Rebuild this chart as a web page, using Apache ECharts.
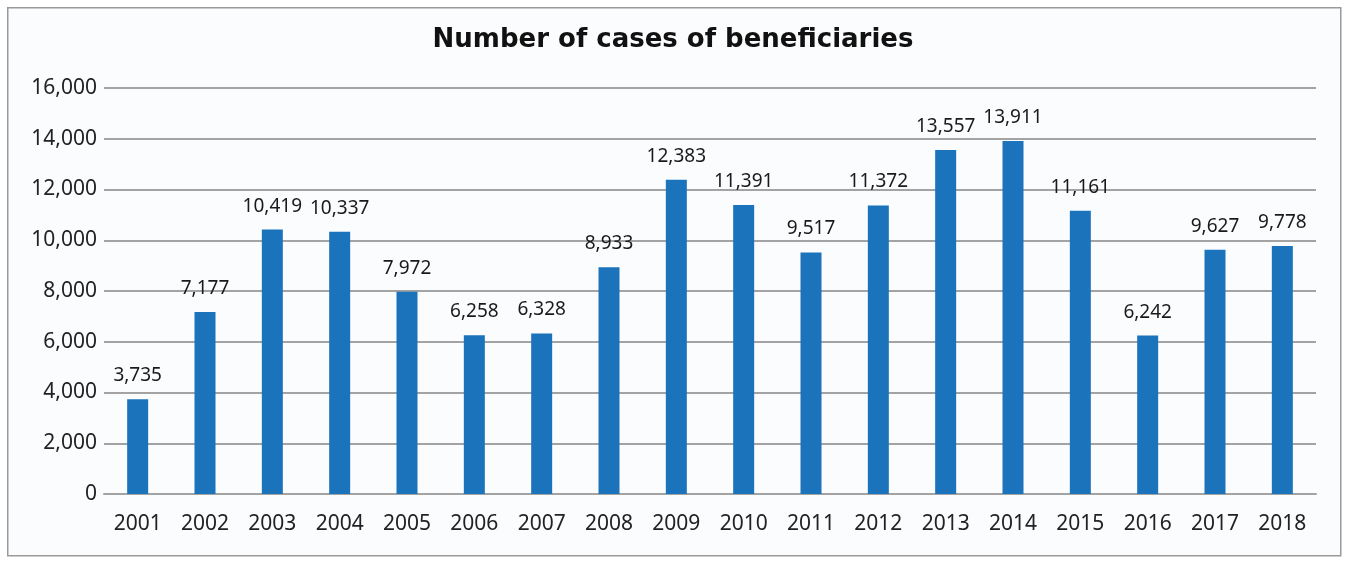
<!DOCTYPE html>
<html>
<head>
<meta charset="utf-8">
<script src="https://cdn.jsdelivr.net/npm/echarts@6/dist/echarts.min.js"></script>
<style>
	html, body { margin: 0; padding: 0; background: #fff; }
	#chart { width: 1346px; height: 562px; }
</style>
</head>
<body>
<div id="chart"></div>
<script>
const years = [ '2001', '2002', '2003', '2004', '2005', '2006', '2007', '2008', '2009',
	'2010', '2011', '2012', '2013', '2014', '2015', '2016', '2017', '2018' ];
const cases = [ 3735, 7177, 10419, 10337, 7972, 6258, 6328, 8933, 12383,
	11391, 9517, 11372, 13557, 13911, 11161, 6242, 9627, 9778 ];
const yTicks = { min: 0, max: 16000, interval: 2000 };

const chart = echarts.init( document.getElementById( 'chart' ) );

chart.setOption( {
	animation: false,
	textStyle: { fontFamily: '"Noto Sans", sans-serif' },
	// frame round the chart
	graphic: [ {
		type: 'rect',
		left: 7,
		top: 7,
		shape: { width: 1333, height: 548 },
		style: { fill: '#fbfcfe', stroke: '#9a9a9a', lineWidth: 1.5 },
		z: -10
	} ],
	title: {
		text: 'Number of cases of beneficiaries',
		left: 'center',
		top: 22,
		textStyle: {
			fontFamily: '"DejaVu Sans", sans-serif',
			fontWeight: 'bold',
			fontSize: 26,
			color: '#111'
		}
	},
	grid: { left: 104, right: 30, top: 88, bottom: 68 },
	xAxis: {
		type: 'category',
		data: years,
		axisLine: { lineStyle: { color: '#a3a3a3', width: 2 } },
		axisTick: { show: false },
		axisLabel: { fontSize: 21, color: '#222', margin: 20 }
	},
	yAxis: {
		type: 'value',
		min: yTicks.min,
		max: yTicks.max,
		interval: yTicks.interval,
		axisLine: { show: false },
		axisTick: { show: false },
		splitLine: { lineStyle: { color: '#a3a3a3', width: 2 } },
		axisLabel: {
			fontSize: 21,
			color: '#222',
			margin: 7,
			formatter: ( v ) => v.toLocaleString( 'en-US' )
		}
	},
	series: [ {
		type: 'bar',
		data: cases,
		barWidth: 21,
		itemStyle: { color: '#1b74bb' },
		label: {
			show: true,
			position: 'top',
			distance: 14,
			fontSize: 19,
			color: '#1a1a1a',
			formatter: ( p ) => p.value.toLocaleString( 'en-US' )
		}
	} ]
} );
</script>
</body>
</html>
